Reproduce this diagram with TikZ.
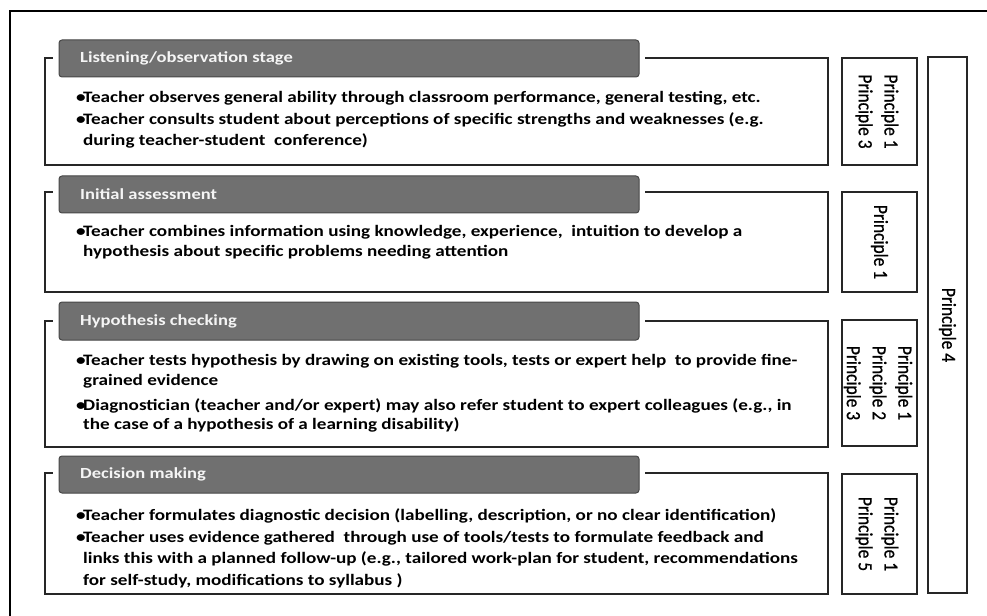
\documentclass[tikz,border=0pt]{standalone}
\usepackage{fontspec}
\setmainfont{Carlito}
\newfontfamily\widefont[FakeStretch=1.2]{Carlito}
\newfontfamily\sidefont[FakeBold=0.8]{Carlito}
\newcommand{\bul}{\makebox[7bp][l]{•}}
\newcommand{\ind}{\hspace*{7bp}}
\begin{document}
\begin{tikzpicture}[x=1bp,y=-1bp,
  frame/.style={draw=black,line width=2bp},
  stagebox/.style={draw=black!85,line width=2.2bp},
  headbar/.style={fill=black!56,draw=black!72,line width=1bp,rounded corners=3bp},
  headmask/.style={fill=white},
  headtext/.style={anchor=west,text=black!4,inner sep=0,font=\widefont\bfseries\fontsize{15.5}{18}\selectfont},
  bodytext/.style={anchor=base west,inner sep=0,font=\widefont\bfseries\fontsize{16}{20}\selectfont},
  prbox/.style={draw=black!85,line width=2.2bp},
  prtext/.style={rotate=-90,yscale=1.15,align=center,inner sep=0,font=\sidefont\fontsize{17.5}{22.5}\selectfont},
]
\useasboundingbox (0,0) rectangle (987,616);
\fill[white] (0,0) rectangle (987,616);

% outer frame (top and left edges)
\draw[frame] (10,616) -- (10,11) -- (987,11);

% ---- stage 1 ----
\draw[stagebox] (45,58) rectangle (828,165);
\fill[headmask] (53,34) rectangle (645,83);
\draw[headbar] (59,40) rectangle (639,77);
\node[headtext] (h1) at (80,58.5) {Listening/observation stage};
\node[bodytext] (t1a) at (76,103) {\bul Teacher observes general ability through classroom performance, general testing, etc.};
\node[bodytext] (t1b) at (76,125) {\bul Teacher consults student about perceptions of specific strengths and weaknesses (e.g.};
\node[bodytext] (t1c) at (76,146) {\ind during teacher-student\ \ conference)};
\draw[prbox] (842,58) rectangle (917,165);
\node[prtext] (p1) at (877,111.5) {Principle 1\\Principle 3};

% ---- stage 2 ----
\draw[stagebox] (45,192) rectangle (828,292);
\fill[headmask] (53,170) rectangle (645,219);
\draw[headbar] (59,176) rectangle (639,213);
\node[headtext] (h2) at (80,194.5) {Initial assessment};
\node[bodytext] (t2a) at (76,237) {\bul Teacher combines information using knowledge, experience,\ \ intuition to develop a};
\node[bodytext] (t2b) at (76,257) {\ind hypothesis about specific problems needing attention};
\draw[prbox] (842,192) rectangle (917,292);
\node[prtext] (p2) at (879.5,242) {Principle 1};

% ---- stage 3 ----
\draw[stagebox] (45,321) rectangle (828,447);
\fill[headmask] (53,296) rectangle (645,346);
\draw[headbar] (59,302) rectangle (639,340);
\node[headtext] (h3) at (80,321) {Hypothesis checking};
\node[bodytext] (t3a) at (76,365) {\bul Teacher tests hypothesis by drawing on existing tools, tests or expert help\ \ to provide fine-};
\node[bodytext] (t3b) at (76,385) {\ind grained evidence};
\node[bodytext] (t3c) at (76,410) {\bul Diagnostician (teacher and/or expert) may also refer student to expert colleagues (e.g., in};
\node[bodytext] (t3d) at (76,429) {\ind the case of a hypothesis of a learning disability)};
\draw[prbox] (842,320) rectangle (917,446);
\node[prtext] (p3) at (878,383) {Principle 1\\Principle 2\\Principle 3};

% ---- stage 4 ----
\draw[stagebox] (45,473) rectangle (828,594);
\fill[headmask] (53,450) rectangle (645,499);
\draw[headbar] (59,456) rectangle (639,493);
\node[headtext] (h4) at (80,474.5) {Decision making};
\node[bodytext] (t4a) at (76,520) {\bul Teacher formulates diagnostic decision (labelling, description, or no clear identification)};
\node[bodytext] (t4b) at (76,542) {\bul Teacher uses evidence gathered\ \ through use of tools/tests to formulate feedback and};
\node[bodytext] (t4c) at (76,563) {\ind links this with a planned follow-up (e.g., tailored work-plan for student, recommendations};
\node[bodytext] (t4d) at (76,585) {\ind for self-study, modifications to syllabus )};
\draw[prbox] (842,474) rectangle (917,594);
\node[prtext] (p4) at (877,534) {Principle 1\\Principle 5};

% ---- spanning principle ----
\draw[prbox] (928,57) rectangle (967,593);
\node[prtext] (p5) at (947.5,325) {Principle 4};
\end{tikzpicture}
\end{document}
